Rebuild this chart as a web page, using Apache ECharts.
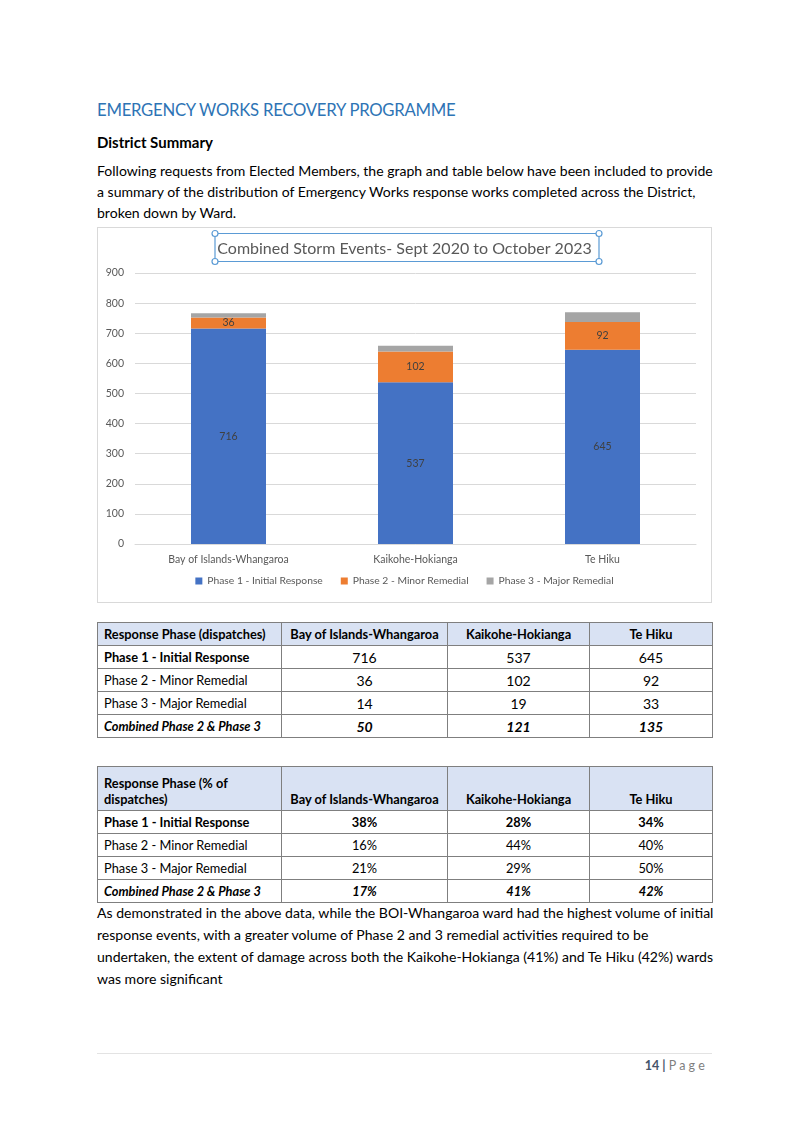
<!DOCTYPE html>
<html>
<head>
<meta charset="utf-8">
<script src="https://cdn.jsdelivr.net/npm/echarts@6/dist/echarts.min.js"></script>
<style>
  html, body { margin: 0; padding: 0; background: #fff; }
  body { width: 807px; height: 1140px; position: relative; overflow: hidden;
         font-family: Lato, "Noto Sans", "Liberation Sans", sans-serif; color: #000; }
  .abs { position: absolute; white-space: nowrap; }
  #h1 { left: 97px; top: 97px; font-size: 16.7px; line-height: 26px; font-weight: 400; color: #2E74B5; letter-spacing: -0.25px; }
  #h2 { left: 97px; top: 132px; font-size: 15px; line-height: 20px; font-weight: 700; }
  .para { left: 97px; font-size: 14.05px; }
  #p1 { top: 160px; line-height: 21px; }
  #p2 { top: 902px; line-height: 22px; }
  #chart { left: 97px; top: 227px; width: 615px; height: 376px; box-sizing: border-box; border: 1px solid #D9D9D9; }
  table { position: absolute; left: 97px; width: 615px; border-collapse: collapse; table-layout: fixed; }
  td { border: 1px solid #7F7F7F; padding: 0 6px; font-size: 12.8px; white-space: nowrap; overflow: hidden; }
  td.c { text-align: center; }
  tr.hd td { background: #D9E2F3; font-weight: 700; }
  #t1 { top: 622px; }
  #t1 tr { height: 23px; }
  #t1 td.num { font-size: 14px; }
  #t2 { top: 766px; }
  #t2 tr { height: 23px; }
  #t2 tr.hd { height: 44px; }
  #t2 tr.hd td { vertical-align: bottom; padding-bottom: 3px; line-height: 16px; }
  .b { font-weight: 700; }
  .bi { font-weight: 700; font-style: italic; }
  #fline { left: 97px; top: 1053px; width: 615px; height: 1px; background: #E3E3E3; }
  #foot { right: 99px; top: 1057px; font-size: 12.5px; line-height: 18px; color: #7F7F7F; }
  #foot .pg { color: #44546A; font-weight: 700; }
  #foot .ls { letter-spacing: 3.2px; }
</style>
</head>
<body>
<div id="h1" class="abs">EMERGENCY WORKS RECOVERY PROGRAMME</div>
<div id="h2" class="abs">District Summary</div>
<div id="p1" class="abs para">Following requests from Elected Members, the graph and table below have been included to provide<br>a summary of the distribution of Emergency Works response works completed across the District,<br>broken down by Ward.</div>
<div id="chart" class="abs"></div>
<table id="t1"></table>
<table id="t2"></table>
<div id="p2" class="abs para">As demonstrated in the above data, while the BOI-Whangaroa ward had the highest volume of initial<br>response events, with a greater volume of Phase 2 and 3 remedial activities required to be<br>undertaken, the extent of damage across both the Kaikohe-Hokianga (41%) and Te Hiku (42%) wards<br>was more significant</div>
<div id="fline" class="abs"></div>
<div id="foot" class="abs"><span class="pg">14 | </span><span class="ls">Page</span></div>

<script>
// ---- data ----
const chartTitle = 'Combined Storm Events- Sept 2020 to October 2023';
const categories = ['Bay of Islands-Whangaroa', 'Kaikohe-Hokianga', 'Te Hiku'];
const seriesNames = ['Phase 1 - Initial Response', 'Phase 2 - Minor Remedial', 'Phase 3 - Major Remedial'];
const phase1 = [716, 537, 645];
const phase2 = [36, 102, 92];
const phase3 = [14, 19, 33];
const combined23 = [50, 121, 135];
const pctPhase1 = ['38%', '28%', '34%'];
const pctPhase2 = ['16%', '44%', '40%'];
const pctPhase3 = ['21%', '29%', '50%'];
const pctCombined = ['17%', '41%', '42%'];
const yMin = 0, yMax = 900, yInterval = 100;
const colors = ['#4472C4', '#ED7D31', '#A5A5A5'];

// ---- tables ----
function row(cells, cls) {
  return '<tr' + (cls ? ' class="' + cls + '"' : '') + '>' + cells.join('') + '</tr>';
}
function td(text, cls) { return '<td' + (cls ? ' class="' + cls + '"' : '') + '>' + text + '</td>'; }
const colgroup = '<colgroup><col style="width:184px"><col style="width:166px"><col style="width:142px"><col style="width:123px"></colgroup>';

let t1 = colgroup;
t1 += row([td('Response Phase (dispatches)'), td(categories[0], 'c'), td(categories[1], 'c'), td(categories[2], 'c')], 'hd');
t1 += row([td(seriesNames[0], 'b')].concat(phase1.map(v => td(v, 'c num'))));
t1 += row([td(seriesNames[1])].concat(phase2.map(v => td(v, 'c num'))));
t1 += row([td(seriesNames[2])].concat(phase3.map(v => td(v, 'c num'))));
t1 += row([td('Combined Phase 2 &amp; Phase 3', 'bi')].concat(combined23.map(v => td(v, 'c num bi'))));
document.getElementById('t1').innerHTML = t1;

let t2 = colgroup;
t2 += row([td('Response Phase (% of<br>dispatches)'), td(categories[0], 'c'), td(categories[1], 'c'), td(categories[2], 'c')], 'hd');
t2 += row([td(seriesNames[0], 'b')].concat(pctPhase1.map(v => td(v, 'c b'))));
t2 += row([td(seriesNames[1])].concat(pctPhase2.map(v => td(v, 'c'))));
t2 += row([td(seriesNames[2])].concat(pctPhase3.map(v => td(v, 'c'))));
t2 += row([td('Combined Phase 2 &amp; Phase 3', 'bi')].concat(pctCombined.map(v => td(v, 'c bi'))));
document.getElementById('t2').innerHTML = t2;

// ---- chart ----
const chart = echarts.init(document.getElementById('chart'), null, { renderer: 'canvas' });
const fontFamily = 'Lato, "Noto Sans", sans-serif';
const labelCfg = (show) => ({
  show: show, position: 'inside', color: '#404040', fontSize: 10.5, fontFamily: fontFamily
});
const handleStyle = { fill: '#fff', stroke: '#5B9BD5', lineWidth: 1.2 };
chart.setOption({
  animation: false,
  color: colors,
  title: {
    text: chartTitle, left: 'center', top: 8,
    textStyle: { color: '#595959', fontSize: 16, fontWeight: 'normal', fontFamily: fontFamily }
  },
  graphic: [
    { type: 'rect', shape: { x: 117, y: 5.5, width: 384, height: 28 }, style: { fill: 'none', stroke: '#5B9BD5', lineWidth: 1.2 }, z: 10 },
    { type: 'circle', shape: { cx: 117, cy: 5.5, r: 3 }, style: handleStyle, z: 11 },
    { type: 'circle', shape: { cx: 501, cy: 5.5, r: 3 }, style: handleStyle, z: 11 },
    { type: 'circle', shape: { cx: 117, cy: 33.5, r: 3 }, style: handleStyle, z: 11 },
    { type: 'circle', shape: { cx: 501, cy: 33.5, r: 3 }, style: handleStyle, z: 11 }
  ],
  legend: {
    data: seriesNames, bottom: 11, left: 'center', icon: 'rect', itemWidth: 7, itemHeight: 7, itemGap: 18,
    textStyle: { color: '#595959', fontSize: 10.3, fontFamily: fontFamily }
  },
  grid: { left: 37, right: 15, top: 45, bottom: 58, containLabel: false },
  xAxis: {
    type: 'category', data: categories,
    axisLine: { show: true, lineStyle: { color: '#D9D9D9' } },
    axisTick: { show: false },
    axisLabel: { color: '#595959', fontSize: 10.5, margin: 10, fontFamily: fontFamily }
  },
  yAxis: {
    type: 'value', min: yMin, max: yMax, interval: yInterval,
    axisLine: { show: false }, axisTick: { show: false },
    axisLabel: { color: '#595959', fontSize: 10.5, margin: 11, fontFamily: fontFamily },
    splitLine: { lineStyle: { color: '#D9D9D9' } }
  },
  series: [
    { name: seriesNames[0], type: 'bar', stack: 'total', data: phase1, barWidth: 75, label: labelCfg(true) },
    { name: seriesNames[1], type: 'bar', stack: 'total', data: phase2, barWidth: 75, label: labelCfg(true) },
    { name: seriesNames[2], type: 'bar', stack: 'total', data: phase3, barWidth: 75, label: labelCfg(false) }
  ]
});
</script>
</body>
</html>
